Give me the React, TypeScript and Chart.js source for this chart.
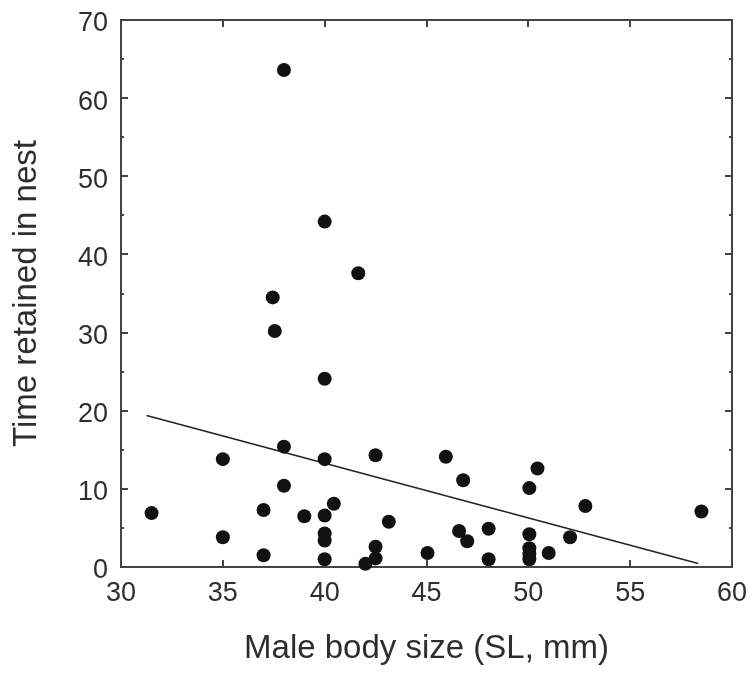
import React, { useEffect, useRef } from "react";
import { Chart, registerables } from "chart.js";

Chart.register(...registerables);

// Male body size (SL, mm)
const maleSize = [
  31.5, 35.0, 35.0, 37.0, 37.0, 37.45, 37.55, 38.0, 38.0, 38.0,
  39.0, 40.0, 40.0, 40.0, 40.0, 40.45, 40.0, 40.0, 40.0, 41.65,
  42.0, 42.5, 42.5, 42.5, 43.15, 45.05, 45.95, 46.6, 46.8, 47.0,
  48.05, 48.05, 50.05, 50.45, 50.05, 50.05, 50.05, 50.05, 51.0, 52.05,
  52.8, 58.5,
];
// Time retained in nest
const timeRetained = [
  6.9, 13.8, 3.8, 7.3, 1.5, 34.5, 30.2, 63.6, 15.4, 10.4,
  6.5, 44.2, 24.1, 13.8, 6.6, 8.1, 4.3, 3.4, 1.0, 37.6,
  0.4, 14.3, 2.6, 1.1, 5.8, 1.8, 14.1, 4.6, 11.1, 3.3,
  4.9, 1.0, 10.1, 12.6, 4.2, 2.4, 1.7, 1.0, 1.8, 3.8,
  7.8, 7.1,
];
// Regression line end points
const fitX = [31.26, 58.34];
const fitY = [19.4, 0.45];

const xMin = 30, xMax = 60, xStep = 5;
const yMin = 0, yMax = 70, yStep = 10, yMinorStep = 5;

const FONT = "'Liberation Sans', Arial, Helvetica, sans-serif";
const AXIS_COLOR = "#444444";
const TEXT_COLOR = "#2e2e2e";

const framePlugin = {
  id: "frame",
  beforeDatasetsDraw(chart: any) {
    const { ctx, chartArea } = chart;
    const xs = chart.scales.x;
    const ys = chart.scales.y;
    const { left, right, top, bottom } = chartArea;
    ctx.save();
    ctx.strokeStyle = AXIS_COLOR;
    ctx.lineWidth = 2;
    ctx.strokeRect(left, top, right - left, bottom - top);
    ctx.beginPath();
    for (let v = xMin + xStep; v < xMax; v += xStep) {
      const px = Math.round(xs.getPixelForValue(v));
      ctx.moveTo(px, bottom);
      ctx.lineTo(px, bottom - 7);
      ctx.moveTo(px, top);
      ctx.lineTo(px, top + 7);
    }
    for (let v = yMin + yMinorStep; v < yMax; v += yMinorStep) {
      const py = Math.round(ys.getPixelForValue(v));
      const len = v % yStep === 0 ? 7 : 3;
      ctx.moveTo(left, py);
      ctx.lineTo(left + len, py);
      ctx.moveTo(right, py);
      ctx.lineTo(right - len, py);
    }
    ctx.stroke();
    ctx.restore();
  },
};

function zeroPadding(scale: any) {
  scale.paddingLeft = 0;
  scale.paddingRight = 0;
  scale.paddingTop = 0;
  scale.paddingBottom = 0;
}

export default function App() {
  const ref = useRef<HTMLCanvasElement | null>(null);

  useEffect(() => {
    if (!ref.current) return;
    const points = maleSize.map((x, i) => ({ x, y: timeRetained[i] }));
    const fit = fitX.map((x, i) => ({ x, y: fitY[i] }));
    const chart = new Chart(ref.current, {
      type: "scatter",
      data: {
        datasets: [
          {
            label: "fit",
            data: fit,
            showLine: true,
            borderColor: "#222222",
            borderWidth: 1.5,
            pointRadius: 0,
            clip: false as any,
            order: 2,
          },
          {
            label: "males",
            data: points,
            backgroundColor: "#111111",
            borderColor: "#111111",
            pointRadius: 7,
            pointBorderWidth: 0,
            clip: false as any,
            order: 1,
          },
        ],
      },
      options: {
        responsive: false,
        animation: false,
        events: [],
        layout: { padding: { left: 0, top: 20, right: 20, bottom: 0 } },
        plugins: {
          legend: { display: false },
          tooltip: { enabled: false },
        },
        scales: {
          x: {
            type: "linear",
            min: xMin,
            max: xMax,
            grid: { display: false, drawTicks: false },
            border: { display: false },
            ticks: {
              stepSize: xStep,
              padding: 10,
              color: TEXT_COLOR,
              font: { family: FONT, size: 27 },
              maxRotation: 0,
            },
            title: {
              display: true,
              text: "Male body size (SL, mm)",
              color: TEXT_COLOR,
              font: { family: FONT, size: 33 },
              padding: { top: 0, bottom: 6 },
            },
            afterFit(scale: any) {
              scale.height = 108;
              zeroPadding(scale);
            },
          },
          y: {
            type: "linear",
            min: yMin,
            max: yMax,
            grid: { display: false, drawTicks: false },
            border: { display: false },
            ticks: {
              stepSize: yStep,
              padding: 13,
              labelOffset: 4,
              color: TEXT_COLOR,
              font: { family: FONT, size: 27 },
            },
            title: {
              display: true,
              text: "Time retained in nest",
              color: TEXT_COLOR,
              font: { family: FONT, size: 33 },
              padding: { top: 7, bottom: 0 },
            },
            afterFit(scale: any) {
              scale.width = 121;
              zeroPadding(scale);
            },
          },
        },
      },
      plugins: [framePlugin],
    });
    return () => chart.destroy();
  }, []);

  return (
    <div style={{ position: "fixed", left: 0, top: 0, width: 752, height: 675, background: "#fff" }}>
      <canvas ref={ref} width={752} height={675} />
    </div>
  );
}
